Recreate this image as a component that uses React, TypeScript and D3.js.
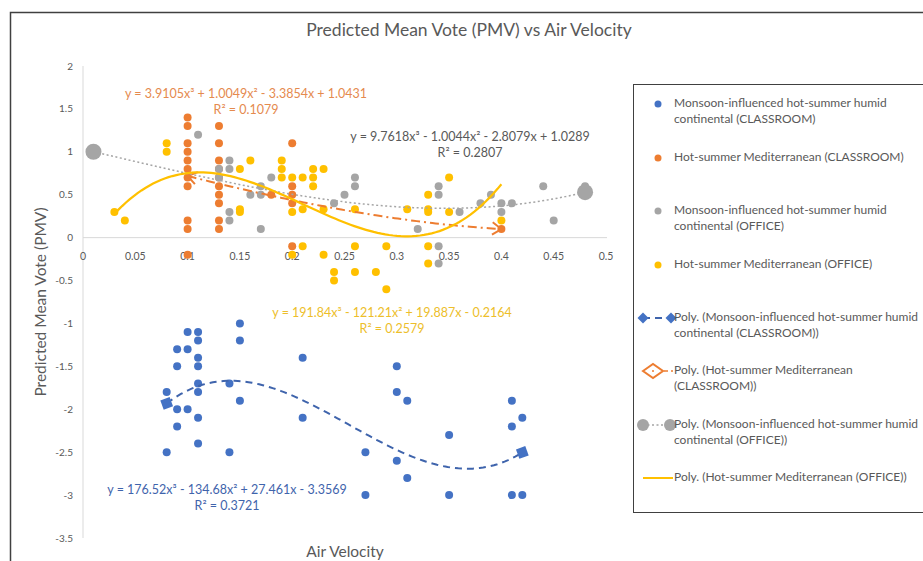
import React from 'react';
import * as d3 from 'd3';

// Air velocity (x) vs PMV (y) for each group
const classroomMonsoon: [number, number][] = [
  [0.08, -1.8], [0.08, -2.5],
  [0.09, -1.3], [0.09, -1.5], [0.09, -2.0], [0.09, -2.2],
  [0.1, -1.1], [0.1, -1.3], [0.1, -2.0],
  [0.11, -1.1], [0.11, -1.2], [0.11, -1.4], [0.11, -1.5], [0.11, -1.7], [0.11, -1.8], [0.11, -2.1], [0.11, -2.4],
  [0.14, -1.7], [0.14, -2.5],
  [0.15, -1.0], [0.15, -1.2], [0.15, -1.9],
  [0.21, -1.4], [0.21, -2.1],
  [0.27, -2.5], [0.27, -3.0],
  [0.3, -1.5], [0.3, -1.8], [0.3, -2.6],
  [0.31, -1.9], [0.31, -2.8],
  [0.35, -2.3], [0.35, -3.0],
  [0.41, -1.9], [0.41, -2.2], [0.41, -3.0],
  [0.42, -2.1], [0.42, -3.0],
];

const classroomMediterranean: [number, number][] = [
  [0.1, 1.4], [0.1, 1.3], [0.1, 1.1], [0.1, 1.0], [0.1, 0.9], [0.1, 0.8], [0.1, 0.7], [0.1, 0.6], [0.1, 0.2], [0.1, 0.1], [0.1, -0.2],
  [0.13, 1.3], [0.13, 1.1], [0.13, 0.9], [0.13, 0.8], [0.13, 0.7], [0.13, 0.6], [0.13, 0.5], [0.13, 0.4], [0.13, 0.2], [0.13, 0.1],
  [0.18, 0.5],
  [0.2, 1.1], [0.2, 0.6], [0.2, 0.5], [0.2, 0.4], [0.2, -0.1],
  [0.4, 0.1],
];

const officeMonsoon: [number, number][] = [
  [0.01, 1.0], [0.11, 1.2],
  [0.13, 0.8], [0.13, 0.7],
  [0.14, 0.9], [0.14, 0.8], [0.14, 0.3], [0.14, 0.2],
  [0.16, 0.5], [0.17, 0.6], [0.17, 0.5], [0.17, 0.1],
  [0.18, 0.7],
  [0.24, 0.4], [0.25, 0.5], [0.26, 0.7], [0.26, 0.6],
  [0.32, 0.1],
  [0.34, 0.6], [0.34, 0.5], [0.34, -0.1], [0.34, -0.3],
  [0.36, 0.3], [0.38, 0.4], [0.39, 0.5],
  [0.4, 0.4], [0.4, 0.3], [0.41, 0.4],
  [0.44, 0.6], [0.45, 0.2], [0.48, 0.6],
];

const officeMediterranean: [number, number][] = [
  [0.03, 0.3], [0.04, 0.2],
  [0.08, 1.1], [0.08, 1.0],
  [0.15, 0.8], [0.15, 0.33], [0.15, 0.3],
  [0.16, 0.9],
  [0.19, 0.9], [0.19, 0.8], [0.19, 0.7],
  [0.2, 0.7], [0.2, 0.3], [0.2, -0.2],
  [0.21, 0.7], [0.21, 0.33], [0.21, -0.1],
  [0.22, 0.8], [0.22, 0.7], [0.22, 0.6],
  [0.23, 0.8], [0.23, 0.33], [0.23, -0.2],
  [0.24, -0.4], [0.24, -0.5],
  [0.26, 0.33], [0.26, -0.1], [0.26, -0.4],
  [0.28, -0.4],
  [0.29, -0.1], [0.29, -0.6],
  [0.31, 0.33],
  [0.33, 0.5], [0.33, 0.33], [0.33, 0.3], [0.33, -0.1], [0.33, -0.3],
  [0.35, 0.7], [0.35, 0.3],
  [0.4, 0.2],
];

// cubic trendline coefficients (x^3, x^2, x, 1) as printed on the chart
const trendClassroomMonsoon = [176.52, -134.68, 27.461, -3.3569];
const trendClassroomMediterranean = [3.9105, 1.0049, -3.3854, 1.0431];
const trendOfficeMonsoon = [9.7618, -1.0044, -2.8079, 1.0289];
const trendOfficeMediterranean = [191.84, -121.21, 19.887, -0.2164];

const xTicks = [0, 0.05, 0.1, 0.15, 0.2, 0.25, 0.3, 0.35, 0.4, 0.45, 0.5];
const yTicks = [2, 1.5, 1, 0.5, 0, -0.5, -1, -1.5, -2, -2.5, -3, -3.5];

const FONT = 'Lato, "Open Sans", sans-serif';
const TEXT = '#595959';
const BLUE = '#4472C4';
const ORANGE = '#ED7D31';
const GRAY = '#A5A5A5';
const YELLOW = '#FFC000';

const x = d3.scaleLinear().domain([0, 0.5]).range([83, 606]);
const y = d3.scaleLinear().domain([-3.5, 2]).range([538, 66]);

const poly = (c: number[]) => (v: number) => ((c[0] * v + c[1]) * v + c[2]) * v + c[3];

const trendPath = (c: number[], data: [number, number][]) => {
  const [lo, hi] = d3.extent(data, (d) => d[0]) as [number, number];
  const f = poly(c);
  const pts = d3.range(0, 101).map((i) => {
    const v = lo + ((hi - lo) * i) / 100;
    return [x(v), y(f(v))] as [number, number];
  });
  return { d: d3.line()(pts) as string, pts };
};

const diamond = (cx: number, cy: number, r: number) =>
  `M${cx},${cy - r}L${cx + r},${cy}L${cx},${cy + r}L${cx - r},${cy}Z`;

const chevron = (tip: [number, number], from: [number, number]) => {
  const a = Math.atan2(tip[1] - from[1], tip[0] - from[0]);
  const len = 11;
  const spread = 0.6;
  const p1 = [tip[0] - len * Math.cos(a - spread), tip[1] - len * Math.sin(a - spread)];
  const p2 = [tip[0] - len * Math.cos(a + spread), tip[1] - len * Math.sin(a + spread)];
  return `M${p1[0]},${p1[1]}L${tip[0]},${tip[1]}L${p2[0]},${p2[1]}`;
};

const Dots = ({ data, color }: { data: [number, number][]; color: string }) => (
  <g fill={color}>
    {data.map((d, i) => (
      <circle key={i} cx={x(d[0])} cy={y(d[1])} r={4} />
    ))}
  </g>
);

const App = () => {
  const tBlue = trendPath(trendClassroomMonsoon, classroomMonsoon);
  const tOrange = trendPath(trendClassroomMediterranean, classroomMediterranean);
  const tGray = trendPath(trendOfficeMonsoon, officeMonsoon);
  const tYellow = trendPath(trendOfficeMediterranean, officeMediterranean);
  const first = (t: { pts: [number, number][] }) => t.pts[0];
  const last = (t: { pts: [number, number][] }) => t.pts[t.pts.length - 1];

  const legend = [
    { lines: ['Monsoon-influenced hot-summer humid', 'continental (CLASSROOM)'], y: 107, kind: 'dot', color: BLUE },
    { lines: ['Hot-summer Mediterranean (CLASSROOM)'], y: 161, kind: 'dot', color: ORANGE },
    { lines: ['Monsoon-influenced hot-summer humid', 'continental (OFFICE)'], y: 214, kind: 'dot', color: GRAY },
    { lines: ['Hot-summer Mediterranean (OFFICE)'], y: 268, kind: 'dot', color: YELLOW },
    { lines: ['Poly. (Monsoon-influenced hot-summer humid', 'continental (CLASSROOM))'], y: 321, kind: 'blue', color: BLUE },
    { lines: ['Poly. (Hot-summer Mediterranean', '(CLASSROOM))'], y: 374, kind: 'orange', color: ORANGE },
    { lines: ['Poly. (Monsoon-influenced hot-summer humid', 'continental (OFFICE))'], y: 428, kind: 'gray', color: GRAY },
    { lines: ['Poly. (Hot-summer Mediterranean (OFFICE))'], y: 481, kind: 'yellow', color: YELLOW },
  ];

  return (
    <svg width={923} height={561} style={{ position: 'absolute', left: 0, top: 0, background: '#fff' }} fontFamily={FONT}>
      <rect x={10.5} y={12.5} width={940} height={580} fill="#fff" stroke="#404040" strokeWidth={1.5} />

      <text x={469} y={36} textAnchor="middle" fontSize={17.5} fill={TEXT}>
        Predicted Mean Vote (PMV) vs Air Velocity
      </text>

      {/* axes */}
      <line x1={83} x2={83} y1={y(2)} y2={y(-3.5)} stroke="#D9D9D9" />
      <line x1={83} x2={607} y1={y(0)} y2={y(0)} stroke="#D9D9D9" />
      {yTicks.map((t) => (
        <text key={t} x={73} y={y(t) + 3.5} textAnchor="end" fontSize={10} fill={TEXT}>
          {t}
        </text>
      ))}
      {xTicks.map((t) => (
        <text key={t} x={x(t)} y={y(0) + 22} textAnchor="middle" fontSize={10.5} fill={TEXT}>
          {t}
        </text>
      ))}
      <text transform="translate(46,302) rotate(-90)" textAnchor="middle" fontSize={15.5} fill={TEXT}>
        Predicted Mean Vote (PMV)
      </text>
      <text x={345} y={557} textAnchor="middle" fontSize={15.5} fill={TEXT}>
        Air Velocity
      </text>

      {/* points */}
      <Dots data={classroomMonsoon} color={BLUE} />
      <Dots data={classroomMediterranean} color={ORANGE} />
      <Dots data={officeMonsoon} color={GRAY} />
      <Dots data={officeMediterranean} color={YELLOW} />

      {/* trendlines */}
      <path d={tBlue.d} fill="none" stroke="#3F64AC" strokeWidth={2} strokeDasharray="7,5" />
      {[first(tBlue), last(tBlue)].map((p, i) => (
        <path key={i} d={diamond(p[0], p[1], 7)} fill={BLUE} transform={`rotate(25,${p[0]},${p[1]})`} />
      ))}

      <path d={tOrange.d} fill="none" stroke={ORANGE} strokeWidth={2} strokeDasharray="9,4,2,4" />
      <path d={chevron(first(tOrange), tOrange.pts[3])} fill="none" stroke={ORANGE} strokeWidth={2} />
      <path d={chevron(last(tOrange), tOrange.pts[97])} fill="none" stroke={ORANGE} strokeWidth={2} />

      <path d={tGray.d} fill="none" stroke={GRAY} strokeWidth={1.5} strokeDasharray="2,2.5" />
      {[first(tGray), last(tGray)].map((p, i) => (
        <circle key={i} cx={p[0]} cy={p[1]} r={8} fill={GRAY} />
      ))}

      <path d={tYellow.d} fill="none" stroke={YELLOW} strokeWidth={2.25} />

      {/* equations */}
      <g fontSize={12.5} textAnchor="middle">
        <text x={246} y={98} fill="#E58A4E">y = 3.9105x³ + 1.0049x² - 3.3854x + 1.0431</text>
        <text x={246} y={114} fill="#E58A4E">R² = 0.1079</text>
        <text x={470} y={141} fill={TEXT}>y = 9.7618x³ - 1.0044x² - 2.8079x + 1.0289</text>
        <text x={470} y={157} fill={TEXT}>R² = 0.2807</text>
        <text x={392} y={317} fill="#EDBE2A">y = 191.84x³ - 121.21x² + 19.887x - 0.2164</text>
        <text x={392} y={333} fill="#EDBE2A">R² = 0.2579</text>
        <text x={227} y={494} fill="#3F64AC">y = 176.52x³ - 134.68x² + 27.461x - 3.3569</text>
        <text x={227} y={510} fill="#3F64AC">R² = 0.3721</text>
      </g>

      {/* legend */}
      <rect x={633.5} y={84.5} width={320} height={428} fill="#fff" stroke="#404040" />
      {legend.map((l, i) => (
        <g key={i}>
          {l.kind === 'dot' && <circle cx={658} cy={l.y - 3} r={3.5} fill={l.color} />}
          {l.kind === 'blue' && (
            <g fill={BLUE}>
              <line x1={643} x2={671} y1={l.y - 3} y2={l.y - 3} stroke="#3F64AC" strokeWidth={2} strokeDasharray="7,5" />
              <path d={diamond(643, l.y - 3, 5.5)} />
              <path d={diamond(671, l.y - 3, 5.5)} />
            </g>
          )}
          {l.kind === 'orange' && (
            <g>
              <line x1={643} x2={673} y1={l.y - 3} y2={l.y - 3} stroke={ORANGE} strokeWidth={1.5} strokeDasharray="4,3" />
              <path d={`M643,${l.y - 3}L653,${l.y - 10}L663,${l.y - 3}L653,${l.y + 4}Z`} fill="#fff" stroke={ORANGE} strokeWidth={2} />
              <circle cx={653} cy={l.y - 3} r={1} fill={ORANGE} />
            </g>
          )}
          {l.kind === 'gray' && (
            <g>
              <line x1={643} x2={670} y1={l.y - 3} y2={l.y - 3} stroke={GRAY} strokeWidth={1.5} strokeDasharray="2,2.5" />
              <circle cx={643} cy={l.y - 3} r={6} fill={GRAY} />
              <circle cx={670} cy={l.y - 3} r={6} fill={GRAY} />
            </g>
          )}
          {l.kind === 'yellow' && <line x1={643} x2={673} y1={l.y - 3} y2={l.y - 3} stroke={YELLOW} strokeWidth={2} />}
          {l.lines.map((s, j) => (
            <text key={j} x={674} y={l.y + j * 15.5} fontSize={12} fill={TEXT}>
              {s}
            </text>
          ))}
        </g>
      ))}
    </svg>
  );
};

export default App;
